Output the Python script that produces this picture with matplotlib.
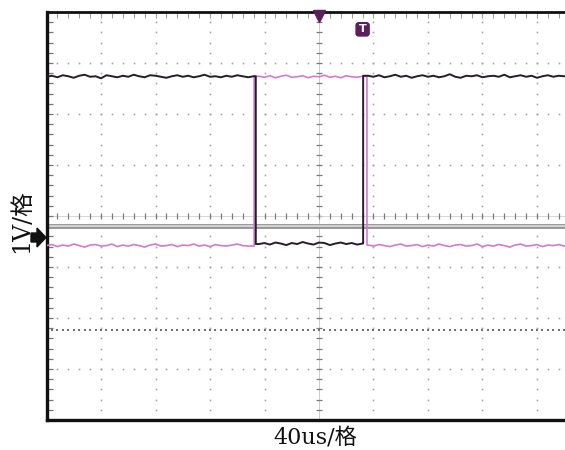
import numpy as np
import matplotlib.pyplot as plt
from matplotlib.patches import Polygon, FancyBboxPatch

plt.rcParams['font.family'] = ['DejaVu Serif', 'Noto Sans CJK SC']

# ---------------- text ----------------
x_label = "40us/格"
y_label = "1V/格"

# ---------------- screen grid (divisions) ----------------
n_xdiv = 10
n_ydiv = 8

# ---------------- traces (values in divisions) ----------------
# black channel: high -> low -> high
black_fall_t = 3.84
black_rise_t = 5.81
black_hi_left = [6.73, 6.75, 6.72, 6.76, 6.74, 6.71, 6.75, 6.77, 6.73, 6.74, 6.70, 6.76, 6.74,
                 6.72, 6.75, 6.73, 6.77, 6.74, 6.72, 6.76, 6.75, 6.73, 6.71, 6.74, 6.76, 6.73,
                 6.75, 6.72, 6.74, 6.77, 6.73, 6.74, 6.72, 6.75, 6.73, 6.76, 6.74, 6.72, 6.74]
black_lo_mid = [3.45, 3.47, 3.44, 3.48, 3.46, 3.43, 3.47, 3.45, 3.49, 3.46,
                3.44, 3.48, 3.47, 3.43, 3.46, 3.48, 3.45, 3.47, 3.44, 3.46]
black_hi_right = [6.75, 6.73, 6.76, 6.72, 6.74, 6.77, 6.73, 6.75, 6.71, 6.74, 6.76, 6.73, 6.75,
                  6.72, 6.74, 6.78, 6.73, 6.71, 6.75, 6.74, 6.76, 6.72, 6.74, 6.75, 6.73, 6.77,
                  6.72, 6.74, 6.76, 6.73, 6.75, 6.71, 6.74, 6.76, 6.73, 6.75, 6.74, 6.73]

# magenta channel: low -> high -> low
mag_rise_t = 3.81
mag_fall_t = 5.88
mag_lo_left = [3.42, 3.44, 3.40, 3.43, 3.41, 3.45, 3.42, 3.39, 3.43, 3.44, 3.41, 3.42, 3.45,
               3.40, 3.43, 3.41, 3.44, 3.42, 3.39, 3.43, 3.45, 3.41, 3.42, 3.44, 3.40, 3.43,
               3.42, 3.45, 3.41, 3.43, 3.40, 3.44, 3.42, 3.41, 3.43, 3.45, 3.42, 3.41]
mag_hi_mid = [6.74, 6.72, 6.75, 6.71, 6.74, 6.76, 6.72, 6.73, 6.75, 6.71,
              6.74, 6.73, 6.76, 6.72, 6.74, 6.71, 6.75, 6.73, 6.72, 6.74]
mag_lo_right = [3.43, 3.41, 3.44, 3.42, 3.40, 3.43, 3.45, 3.41, 3.42, 3.44, 3.40, 3.43, 3.41,
                3.45, 3.42, 3.40, 3.43, 3.44, 3.41, 3.42, 3.45, 3.40, 3.43, 3.41, 3.44, 3.42,
                3.39, 3.43, 3.45, 3.41, 3.42, 3.44, 3.40, 3.43, 3.42, 3.44, 3.41, 3.43]

# markers / cursors (divisions)
ref_line_v = 3.80      # grey reference level
cursor_v = 1.765       # dense dotted cursor
ground_v = 3.59        # ground arrow
trigger_t = 5.0        # trigger position

# ---------------- figure ----------------
W, H = 565, 450
fig = plt.figure(figsize=(W / 100, H / 100), dpi=100)
left_px, div_px = 46.5, 54.5
top_px, bot_px = 12, 420
xmax = (W - left_px) / div_px
ax = fig.add_axes([left_px / W, 1 - bot_px / H, (W - left_px) / W, (bot_px - top_px) / H])
ax.set_xlim(0, xmax)
ax.set_ylim(0, n_ydiv)
ax.set_xticks([])
ax.set_yticks([])
ax.spines['right'].set_visible(False)
ax.spines['left'].set_linewidth(2.4)
ax.spines['bottom'].set_linewidth(2.4)
ax.spines['top'].set_linewidth(2.0)
for s in ['left', 'bottom', 'top']:
    ax.spines[s].set_color('#111111')

grid_c = '#a6a6a6'
sub = np.arange(0, n_xdiv * 5 + 1) * 0.2
suby = np.arange(0, n_ydiv * 5 + 1) * 0.2

# dotted grid lines
for d in range(1, n_xdiv):
    if d == n_xdiv // 2:
        continue
    ax.plot(np.full_like(suby, d), suby, ls='none', marker='s', ms=1.2, color=grid_c, mew=0)
for v in range(1, n_ydiv):
    if v == n_ydiv // 2:
        continue
    ax.plot(sub, np.full_like(sub, v), ls='none', marker='s', ms=1.2, color=grid_c, mew=0)

# centre cross with ticks
cx, cy = n_xdiv / 2, n_ydiv / 2
ax.plot([cx, cx], [0, n_ydiv], color='#c4c4c4', lw=0.6)
ax.plot(np.full_like(suby, cx), suby, ls='none', marker='_', ms=5, color='#7a7a7a', mew=0.9)
ax.plot([0, xmax], [cy, cy], color='#d0d0d0', lw=0.6)
ax.plot(sub, np.full_like(sub, cy), ls='none', marker='|', ms=5, color='#7a7a7a', mew=0.9)

# edge ticks
ax.plot(np.full_like(suby, 0.06), suby, ls='none', marker='_', ms=5, color='#777777', mew=0.9)
ax.plot(sub, np.full_like(sub, n_ydiv - 0.06), ls='none', marker='|', ms=4, color='#999999', mew=0.7)

# grey reference level (double line)
ax.plot([0, xmax], [ref_line_v, ref_line_v], color='#9a9a9a', lw=3.6, solid_capstyle='butt')
ax.plot([0, xmax], [ref_line_v, ref_line_v], color='#dddddd', lw=1.2, solid_capstyle='butt')

# dense dotted cursor
dense = np.arange(0, 100) * 0.1
ax.plot(dense, np.full_like(dense, cursor_v), ls='none', marker='s', ms=1.8, color='#707070', mew=0)

# traces
bt = np.r_[np.arange(len(black_hi_left)) * 0.1, black_fall_t, black_fall_t,
           3.9 + np.arange(len(black_lo_mid)) * 0.1, black_rise_t, black_rise_t,
           5.9 + np.arange(len(black_hi_right)) * 0.1]
bv = np.r_[black_hi_left, black_hi_left[-1], black_lo_mid[0], black_lo_mid,
           black_lo_mid[-1], black_hi_right[0], black_hi_right]
mt = np.r_[np.arange(len(mag_lo_left)) * 0.1, mag_rise_t, mag_rise_t,
           3.9 + np.arange(len(mag_hi_mid)) * 0.1, mag_fall_t, mag_fall_t,
           5.9 + np.arange(len(mag_lo_right)) * 0.1]
mv = np.r_[mag_lo_left, mag_lo_left[-1], mag_hi_mid[0], mag_hi_mid,
           mag_hi_mid[-1], mag_lo_right[0], mag_lo_right]

ax.plot(mt, mv, color='#d27ad2', lw=1.2, zorder=5)
ax.plot(bt, bv, color='#2a1a2a', lw=1.4, zorder=6)

# trigger marker
ax.plot([trigger_t], [n_ydiv - 0.08], marker='v', ms=8, color='#5b1f5b', clip_on=False, zorder=8)
# T marker box
tb = FancyBboxPatch((5.69, 7.54), 0.22, 0.24, boxstyle='round,pad=0.01,rounding_size=0.05',
                    fc='#5b1f5b', ec='#5b1f5b', zorder=8)
ax.add_patch(tb)
ax.text(5.80, 7.66, 'T', color='white', fontsize=8, fontweight='bold', ha='center', va='center',
        zorder=9, family='DejaVu Sans')

# ground arrow (figure pixel coordinates)
def fp(x, y):
    return (x / W, 1 - y / H)
arrow_pts = [fp(31, 233), fp(37, 233), fp(37, 228), fp(46, 237.5), fp(37, 247), fp(37, 242), fp(31, 242)]
fig.patches.append(Polygon(arrow_pts, closed=True, fc='#111111', ec='#111111',
                           transform=fig.transFigure, figure=fig))

# labels
fig.text(315 / W, 1 - 438 / H, x_label, ha='center', va='center', fontsize=16, color='#111111')
fig.text(22 / W, 1 - 221 / H, y_label, ha='center', va='center', fontsize=17, rotation=90,
         color='#111111')

fig.savefig('out.png', dpi=100)
